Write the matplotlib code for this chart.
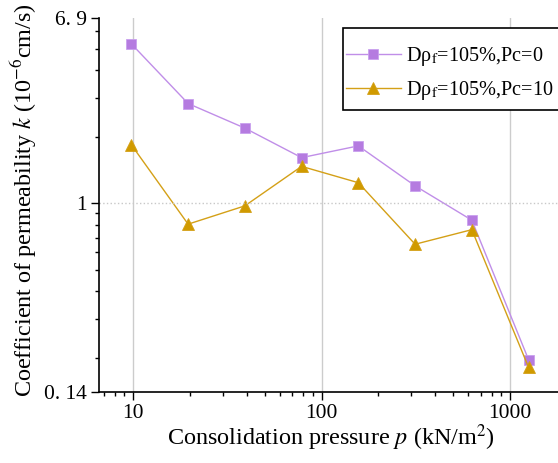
import numpy as np
import matplotlib
matplotlib.use('Agg')
import matplotlib.pyplot as plt
from matplotlib.patches import Rectangle
from matplotlib.ticker import FixedLocator, FixedFormatter, LogLocator, NullFormatter

plt.rcParams['font.family'] = ['Liberation Serif', 'DejaVu Serif']
plt.rcParams['mathtext.fontset'] = 'stix'

# 数据
pressure = [9.8, 19.6, 39.2, 78.4, 156.8, 313.6, 627.2, 1254.4]
k_pc0 = [5.27, 2.83, 2.19, 1.61, 1.82, 1.20, 0.839, 0.196]
k_pc10 = [1.84, 0.805, 0.974, 1.47, 1.24, 0.653, 0.76, 0.181]
labels = ['D\u03c1$_{\\mathrm{f}}$=105%,Pc=0', 'D\u03c1$_{\\mathrm{f}}$=105%,Pc=10']
y_ticks = [0.14, 1, 6.9]
y_ticklabels = ['0. 14', '1', '6. 9']

fig = plt.figure(figsize=(5.58, 4.63), dpi=100)
ax = fig.add_axes([99/558, 1-392/463, 1-99/558, (392-18)/463])

ax.plot(pressure, k_pc0, color='#c08ee8', lw=1, marker='s', ms=7,
        mfc='#b57be0', mec='#c9a0ee', mew=0.6, label=labels[0])
ax.plot(pressure, k_pc10, color='#d4a017', lw=1, marker='^', ms=9,
        mfc='#d09a00', mec='#d4a017', mew=0.6, label=labels[1])

ax.set_xscale('log')
ax.set_yscale('log')
ax.set_xlim(6.6, 1797)
ax.set_ylim(0.14, 6.9)

ax.yaxis.set_major_locator(FixedLocator(y_ticks))
ax.yaxis.set_major_formatter(FixedFormatter(y_ticklabels))
ax.yaxis.set_minor_locator(LogLocator(base=10, subs=np.arange(2, 10)))
ax.yaxis.set_minor_formatter(NullFormatter())
ax.xaxis.set_major_locator(FixedLocator([10, 100, 1000]))
ax.set_xticklabels(['10', '100', '1000'])
ax.xaxis.set_minor_locator(LogLocator(base=10, subs=np.arange(2, 10)))
ax.xaxis.set_minor_formatter(NullFormatter())

ax.tick_params(which='major', direction='out', length=5.5, width=1, labelsize=15.5, pad=3)
ax.tick_params(which='minor', direction='out', length=3.2, width=1)

ax.grid(axis='x', which='major', color='#cccccc', lw=1)
ax.axhline(1, color='#c8c8c8', ls=':', lw=1)
ax.set_axisbelow(True)

ax.spines['right'].set_visible(False)
ax.spines['top'].set_visible(False)
ax.spines['left'].set_linewidth(1.2)
ax.spines['bottom'].set_linewidth(1.2)

ax.set_xlabel('Consolidation pressure $p$ (kN/m$^2$)', fontsize=17.4)
ax.set_ylabel('Coefficient of permeability $k$ (10$^{-6}$cm/s)', fontsize=17.4)
ax.xaxis.set_label_coords(0.505, -0.08)
ax.yaxis.set_label_coords(-0.131, 0.513)

# 图例边框（右侧超出画面）
ax.add_patch(Rectangle((0.5316, 0.754), 0.6, 0.9733 - 0.754, transform=ax.transAxes,
                       fill=True, facecolor='white', edgecolor='black', lw=1.2,
                       clip_on=False, zorder=4))
leg = ax.legend(loc='upper left', bbox_to_anchor=(0.5338, 0.934), fontsize=14.6,
                frameon=False, borderaxespad=0, borderpad=0.1,
                handlelength=2.7, handletextpad=0.28, labelspacing=0.55)
leg.set_zorder(5)

fig.savefig('out.png', dpi=100)
